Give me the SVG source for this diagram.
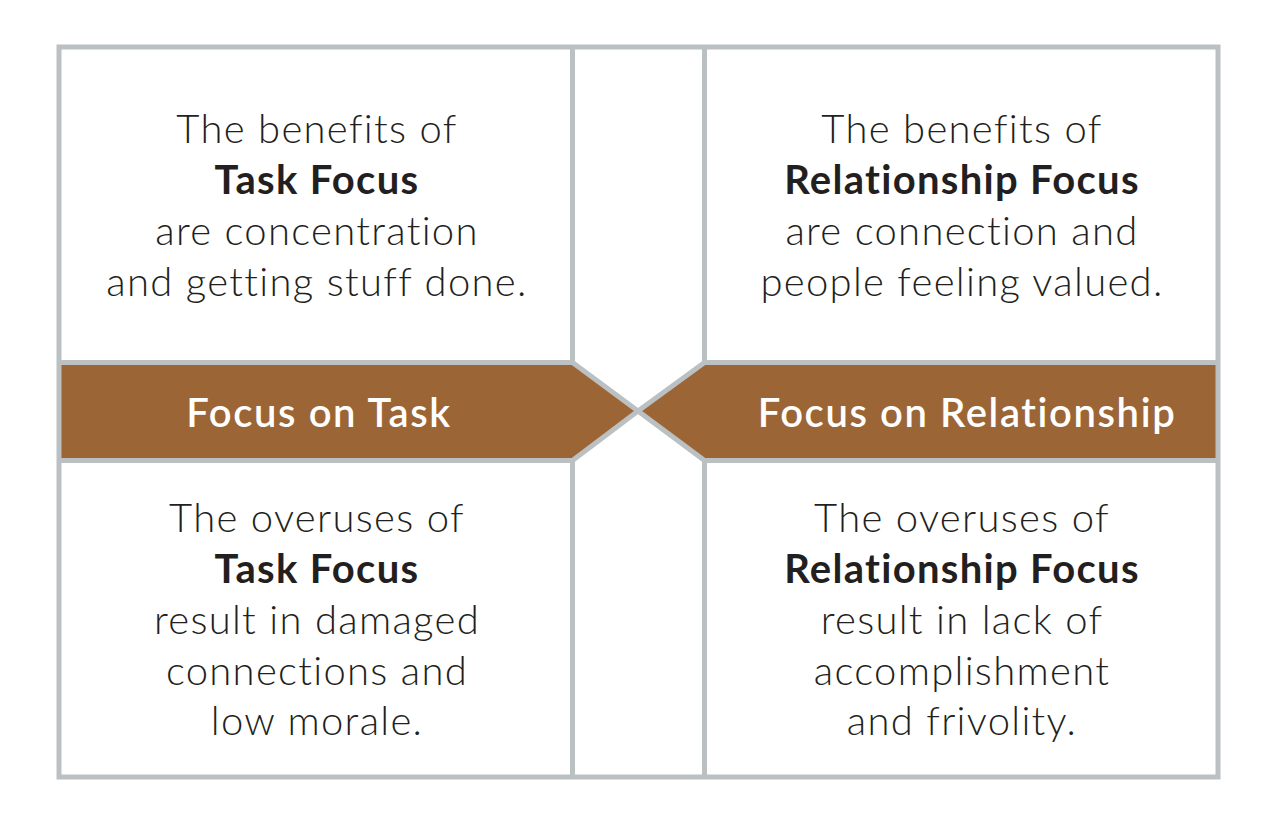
<svg xmlns="http://www.w3.org/2000/svg" width="1270" height="824" viewBox="0 0 1270 824">
<style>
.line{fill:none;stroke:#bbc0c3;stroke-width:5;stroke-linejoin:miter}
.band{fill:#9c6535}
.t{font-family:Lato,"Open Sans","Liberation Sans",sans-serif;font-size:40px;font-weight:300;fill:#231f20;text-anchor:middle;letter-spacing:1.3px}
.b{font-weight:700;letter-spacing:1.3px}
.bt{font-family:Lato,"Open Sans","Liberation Sans",sans-serif;font-size:40px;font-weight:600;fill:#ffffff;text-anchor:middle;letter-spacing:1.6px}
</style>
<rect x="0" y="0" width="1270" height="824" fill="#ffffff"/>
<g id="band-task">
<polygon class="band" points="59,362.5 572.5,362.5 638,411 572.5,460.5 59,460.5"/>
<text class="bt" x="319" y="427">Focus on Task</text>
</g>
<g id="band-relationship">
<polygon class="band" points="1218,362.5 704.5,362.5 638,411 704.5,460.5 1218,460.5"/>
<text class="bt" x="967" y="427">Focus on Relationship</text>
</g>
<g id="frame">
<rect class="line" x="59" y="47" width="1159" height="730"/>
<path class="line" d="M572.5,47V362.5M704.5,47V362.5M572.5,460.5V777M704.5,460.5V777M59,362.5H572.5L638,411L572.5,460.5H59M1218,362.5H704.5L638,411L704.5,460.5H1218"/>
</g>
<g id="task-benefits">
<text class="t" x="317" y="143">The benefits of</text>
<text class="t b" x="317" y="194">Task Focus</text>
<text class="t" x="317" y="245">are concentration</text>
<text class="t" x="317" y="296">and getting stuff done.</text>
</g>
<g id="relationship-benefits">
<text class="t" x="962" y="143">The benefits of</text>
<text class="t b" x="962" y="194">Relationship Focus</text>
<text class="t" x="962" y="245">are connection and</text>
<text class="t" x="962" y="296">people feeling valued.</text>
</g>
<g id="task-overuses">
<text class="t" x="317" y="532">The overuses of</text>
<text class="t b" x="317" y="583">Task Focus</text>
<text class="t" x="317" y="634">result in damaged</text>
<text class="t" x="317" y="685">connections and</text>
<text class="t" x="317" y="735">low morale.</text>
</g>
<g id="relationship-overuses">
<text class="t" x="962" y="532">The overuses of</text>
<text class="t b" x="962" y="583">Relationship Focus</text>
<text class="t" x="962" y="634">result in lack of</text>
<text class="t" x="962" y="685">accomplishment</text>
<text class="t" x="962" y="735">and frivolity.</text>
</g>
</svg>
